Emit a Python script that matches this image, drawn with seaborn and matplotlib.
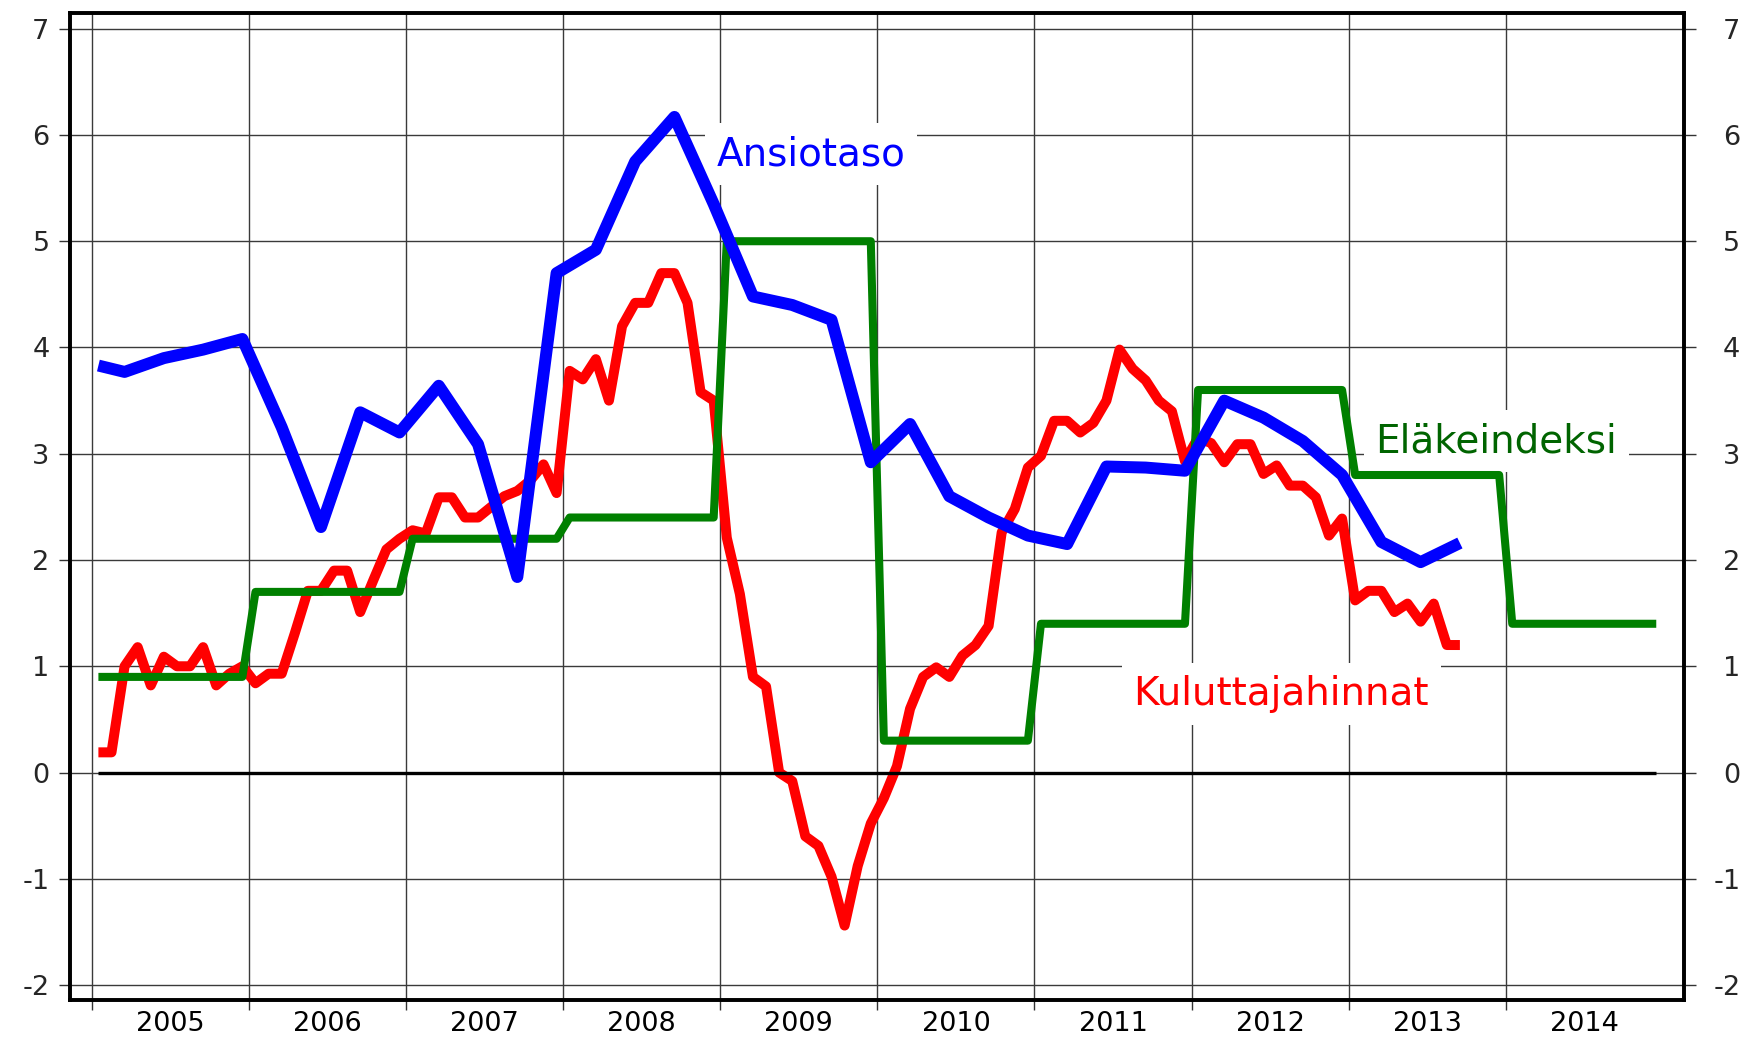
import numpy as np
import pandas as pd
import matplotlib
matplotlib.use("Agg")
import matplotlib.pyplot as plt
import seaborn as sns
from matplotlib.ticker import FixedLocator, FixedFormatter, NullFormatter

# ---------------- data ----------------
years = list(range(2005, 2015))
year_labels = [str(y) for y in years]
y_ticks = [-2, -1, 0, 1, 2, 3, 4, 5, 6, 7]
y_labels = ["-2", "-1", "0", "1", "2", "3", "4", "5", "6", "7"]

# Eläkeindeksi: one value per year (constant Jan..Dec)
elake = [0.9, 1.7, 2.2, 2.4, 5.0, 0.3, 1.4, 3.6, 2.8, 1.4]

# Ansiotaso: quarterly observations, month index from Jan 2005
ansio_months = [0, 2, 5, 8, 11, 14, 17, 20, 23, 26, 29, 32, 35, 38, 41, 44, 47, 50,
                53, 56, 59, 62, 65, 68, 71, 74, 77, 80, 83, 86, 89, 92, 95, 98, 101, 104]
ansio = [3.83, 3.77, 3.90, 3.98, 4.08, 3.25, 2.31, 3.39, 3.20, 3.64, 3.09, 1.84,
         4.70, 4.92, 5.75, 6.17, 5.35, 4.48, 4.40, 4.26, 2.92, 3.28, 2.60, 2.40,
         2.23, 2.15, 2.88, 2.87, 2.84, 3.50, 3.34, 3.12, 2.80, 2.17, 1.98, 2.16]

# Kuluttajahinnat: monthly, Jan 2005 .. Sep 2013
kulutus = [
    0.19, 0.19, 1.00, 1.18, 0.82, 1.09, 1.00, 1.00, 1.18, 0.82, 0.93, 1.00,   # 2005
    0.84, 0.93, 0.93, 1.31, 1.71, 1.71, 1.90, 1.90, 1.51, 1.81, 2.10, 2.20,   # 2006
    2.28, 2.25, 2.59, 2.59, 2.40, 2.40, 2.50, 2.60, 2.65, 2.75, 2.90, 2.63,   # 2007
    3.78, 3.70, 3.89, 3.50, 4.20, 4.42, 4.42, 4.70, 4.70, 4.42, 3.58, 3.50,   # 2008
    2.21, 1.68, 0.90, 0.81, 0.00, -0.08, -0.60, -0.69, -0.98, -1.44, -0.88, -0.48,  # 2009
    -0.24, 0.06, 0.60, 0.90, 0.99, 0.90, 1.10, 1.20, 1.38, 2.26, 2.48, 2.87,  # 2010
    2.98, 3.31, 3.31, 3.20, 3.29, 3.50, 3.98, 3.80, 3.69, 3.50, 3.40, 2.93,   # 2011
    3.15, 3.10, 2.92, 3.09, 3.09, 2.81, 2.89, 2.70, 2.70, 2.59, 2.23, 2.39,   # 2012
    1.62, 1.71, 1.71, 1.51, 1.59, 1.42, 1.59, 1.20, 1.20,                     # 2013
]

series_labels = ["Ansiotaso", "Eläkeindeksi", "Kuluttajahinnat"]


def month_x(m):
    return 2005 + (m + 0.5) / 12.0


df_red = pd.DataFrame({"x": [month_x(m) for m in range(len(kulutus))], "y": kulutus})
df_blue = pd.DataFrame({"x": [month_x(m) for m in ansio_months], "y": ansio})
gx, gy = [], []
for yr, v in zip(years, elake):
    gx += [yr + 0.5 / 12, yr + 11.5 / 12]
    gy += [v, v]
df_green = pd.DataFrame({"x": gx, "y": gy})

# ---------------- style ----------------
sns.set_style("white")
plt.rcParams["font.family"] = ["DejaVu Sans"]
plt.rcParams["axes.unicode_minus"] = False

fig = plt.figure(figsize=(17.46, 10.39), dpi=100)
L, R, B, T = 0.0401, 0.9645, 0.0375, 0.9872
ax = fig.add_axes([L, B, R - L, T - B])
xlim = (2004.861, 2015.135)
ylim = (-2.141, 7.145)

sns.lineplot(data=df_red, x="x", y="y", ax=ax, color="#ff0000", linewidth=7.2,
             sort=False, estimator=None, zorder=3,
             solid_capstyle="butt", solid_joinstyle="round")
ax.hlines(0, month_x(0), month_x(119), color="black", linewidth=2.4, zorder=3.5)
sns.lineplot(data=df_green, x="x", y="y", ax=ax, color="#008000", linewidth=5.8,
             sort=False, estimator=None, zorder=4,
             solid_capstyle="butt", solid_joinstyle="round")
sns.lineplot(data=df_blue, x="x", y="y", ax=ax, color="#0000ff", linewidth=8.6,
             sort=False, estimator=None, zorder=5,
             solid_capstyle="butt", solid_joinstyle="round")

ax.set_xlim(*xlim)
ax.set_ylim(*ylim)
ax.set_xlabel("")
ax.set_ylabel("")

# labels (white boxes hide the grid only, they sit below the data lines)
bbox = dict(facecolor="white", edgecolor="none", boxstyle="square,pad=0.3")
ax.text(2008.979, 5.717, series_labels[0], color="#0000ff", fontsize=28,
        ha="left", va="baseline", bbox=bbox, zorder=2.5)
ax.text(2013.17, 3.016, series_labels[1], color="#006400", fontsize=28,
        ha="left", va="baseline", bbox=bbox, zorder=2.5)
ax.text(2011.63, 0.636, series_labels[2], color="#ff0000", fontsize=28,
        ha="left", va="baseline", bbox=bbox, zorder=2.5)

# ticks & grid
ax.xaxis.set_major_locator(FixedLocator(years))
ax.xaxis.set_major_formatter(NullFormatter())
ax.xaxis.set_minor_locator(FixedLocator([y + 0.5 for y in years]))
ax.xaxis.set_minor_formatter(FixedFormatter(year_labels))
ax.tick_params(axis="x", which="major", direction="out", length=7, width=1.0,
               color="#333333", bottom=True, top=False)
ax.tick_params(axis="x", which="minor", length=0, pad=8, labelsize=19.5,
               labelcolor="black", bottom=True)

ax.yaxis.set_major_locator(FixedLocator(y_ticks))
ax.yaxis.set_major_formatter(FixedFormatter(y_labels))
ax.tick_params(axis="y", which="major", direction="out", length=7.7, width=1.0,
               color="#333333", labelsize=19.5, pad=7.0, left=True, right=False,
               labelleft=True, labelright=False)

ax.grid(True, which="major", axis="both", color="#3a3a3a", linewidth=1.0)
ax.set_axisbelow(True)
for s in ax.spines.values():
    s.set_visible(True)
    s.set_linewidth(2.6)
    s.set_color("black")

# right-hand duplicate axis
ax2 = ax.twinx()
ax2.set_ylim(*ylim)
ax2.yaxis.set_major_locator(FixedLocator(y_ticks))
ax2.yaxis.set_major_formatter(FixedFormatter(y_labels))
ax2.tick_params(axis="y", which="major", direction="out", length=8.6, width=1.0,
                color="#333333", labelsize=19.5, pad=32, right=True,
                labelright=True)
for lab in ax2.get_yticklabels():
    lab.set_horizontalalignment("right")
for s in ax2.spines.values():
    s.set_linewidth(2.6)
    s.set_color("black")
ax2.grid(False)

fig.savefig("out.png", dpi=100, facecolor="white")
